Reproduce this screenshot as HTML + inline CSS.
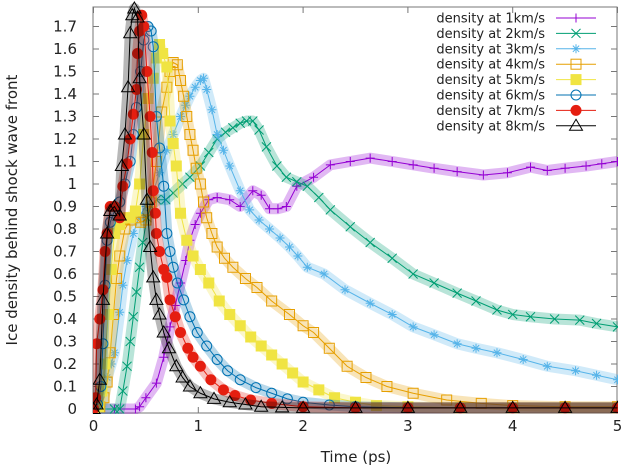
<!DOCTYPE html>
<html><head><meta charset="utf-8"><style>
body{margin:0;background:#fff;}
svg{display:block;font-family:"DejaVu Sans","Liberation Sans",sans-serif;}
</style></head><body>
<svg id="chart" width="625" height="469" viewBox="0 0 625 469">
<defs><clipPath id="pc"><rect x="93" y="0" width="525" height="414"/></clipPath></defs>
<rect x="93" y="7" width="524" height="406" fill="#fff" stroke="#777" stroke-width="1"/>
<g id="axes"></g>
<g id="series" clip-path="url(#pc)"></g>
<g id="legend"></g>
<text x="356" y="462" text-anchor="middle" font-size="15" fill="#222">Time (ps)</text>
<text transform="translate(17,210) rotate(-90)" text-anchor="middle" font-size="15" fill="#222">Ice density behind shock wave front</text>
</svg>
<script>
const xTicks=[0,1,2,3,4,5];
const yTicks=[0,0.1,0.2,0.3,0.4,0.5,0.6,0.7,0.8,0.9,1,1.1,1.2,1.3,1.4,1.5,1.6,1.7];
const seriesNames=["density at 1km/s","density at 2km/s","density at 3km/s","density at 4km/s","density at 5km/s","density at 6km/s","density at 7km/s","density at 8km/s"];
const t1=[0,0.2,0.4,0.44,0.5,0.6,0.67,0.73,0.78,0.83,0.88,0.92,0.97,1.02,1.1,1.18,1.3,1.4,1.52,1.6,1.68,1.76,1.84,1.94,2.1,2.26,2.45,2.64,2.85,3.05,3.25,3.47,3.72,3.95,4.17,4.33,4.5,4.7,4.85,5];
const v1=[0,0,0,0.01,0.05,0.115,0.23,0.365,0.46,0.56,0.66,0.75,0.82,0.87,0.93,0.94,0.93,0.9,0.97,0.95,0.89,0.89,0.9,0.99,1.03,1.085,1.1,1.115,1.1,1.085,1.07,1.055,1.04,1.05,1.075,1.06,1.07,1.08,1.09,1.1];
const t2=[0,0.2,0.25,0.28,0.32,0.35,0.38,0.41,0.44,0.47,0.51,0.55,0.6,0.69,0.76,0.85,0.92,1.02,1.1,1.18,1.26,1.33,1.4,1.46,1.52,1.58,1.65,1.75,1.84,1.94,2.04,2.15,2.26,2.45,2.64,2.85,3.05,3.25,3.47,3.65,3.85,4.0,4.17,4.4,4.64,4.8,5];
const v2=[0,0,0,0.08,0.19,0.3,0.41,0.52,0.63,0.74,0.85,0.9,0.93,0.93,0.96,1.0,1.03,1.08,1.14,1.2,1.23,1.25,1.27,1.28,1.28,1.24,1.165,1.08,1.03,1.01,0.99,0.94,0.885,0.81,0.74,0.67,0.6,0.56,0.515,0.48,0.44,0.42,0.41,0.4,0.395,0.38,0.365];
const t3=[0,0.08,0.13,0.17,0.2,0.25,0.28,0.32,0.38,0.44,0.5,0.56,0.63,0.7,0.76,0.83,0.88,0.92,0.97,1.02,1.05,1.08,1.13,1.18,1.24,1.3,1.4,1.49,1.58,1.68,1.78,1.87,1.95,2.04,2.2,2.4,2.64,2.85,3.05,3.25,3.47,3.65,3.85,4.1,4.33,4.6,4.8,5];
const v3=[0,0.01,0.14,0.2,0.25,0.43,0.55,0.66,0.78,0.86,0.9,0.95,1.05,1.15,1.22,1.3,1.35,1.39,1.43,1.46,1.47,1.42,1.33,1.22,1.15,1.08,0.97,0.885,0.84,0.8,0.76,0.72,0.68,0.63,0.6,0.53,0.47,0.42,0.365,0.33,0.29,0.27,0.25,0.22,0.19,0.17,0.15,0.13];
const t4=[0,0.06,0.1,0.13,0.16,0.19,0.22,0.25,0.3,0.35,0.4,0.45,0.5,0.55,0.6,0.65,0.7,0.73,0.76,0.8,0.83,0.86,0.89,0.92,0.95,0.98,1.02,1.05,1.08,1.13,1.18,1.25,1.33,1.45,1.56,1.7,1.87,2.0,2.1,2.25,2.42,2.6,2.8,3.05,3.37,3.7,4.0,4.5,5];
const v4=[0,0.01,0.05,0.12,0.25,0.42,0.58,0.68,0.8,0.84,0.85,0.83,0.84,0.92,1.1,1.32,1.43,1.5,1.54,1.53,1.46,1.39,1.3,1.22,1.15,1.07,1.0,0.92,0.85,0.78,0.72,0.67,0.63,0.58,0.54,0.48,0.42,0.37,0.34,0.27,0.19,0.14,0.1,0.07,0.04,0.025,0.015,0.01,0.01];
const t5=[0,0.05,0.08,0.11,0.14,0.17,0.2,0.25,0.3,0.35,0.4,0.44,0.48,0.52,0.57,0.6,0.63,0.66,0.7,0.73,0.76,0.79,0.83,0.89,0.95,1.02,1.1,1.2,1.3,1.4,1.5,1.6,1.7,1.8,1.9,2.0,2.15,2.3,2.5,2.7,3.0,3.5,4.0,4.5,5];
const v5=[0,0.01,0.08,0.2,0.42,0.62,0.78,0.82,0.85,0.85,0.88,1.0,1.22,1.38,1.47,1.56,1.62,1.58,1.52,1.28,1.18,1.08,0.87,0.75,0.68,0.62,0.56,0.48,0.42,0.37,0.32,0.28,0.24,0.2,0.16,0.12,0.085,0.05,0.03,0.015,0.01,0.005,0.005,0.005,0.005];
const t6=[0,0.04,0.07,0.09,0.11,0.13,0.16,0.2,0.25,0.3,0.35,0.38,0.41,0.45,0.48,0.52,0.55,0.57,0.6,0.63,0.67,0.7,0.73,0.76,0.8,0.86,0.92,0.99,1.08,1.18,1.28,1.4,1.55,1.7,1.85,2.0,2.25,2.5,3.0,3.5,4.0,4.5,5];
const v6=[0,0.02,0.1,0.29,0.55,0.75,0.83,0.88,0.92,1.0,1.1,1.22,1.34,1.5,1.64,1.7,1.68,1.61,1.3,1.16,0.99,0.78,0.7,0.63,0.56,0.485,0.41,0.34,0.28,0.22,0.17,0.13,0.095,0.07,0.045,0.03,0.018,0.01,0.005,0.005,0.005,0.005,0.005];
const t7=[0,0.02,0.03,0.06,0.09,0.11,0.13,0.16,0.2,0.25,0.28,0.32,0.35,0.38,0.41,0.42,0.44,0.46,0.48,0.51,0.54,0.56,0.57,0.59,0.6,0.63,0.67,0.7,0.73,0.78,0.83,0.9,0.95,1.02,1.12,1.24,1.35,1.5,1.7,2.0,2.5,3.0,3.5,4.0,4.5,5];
const v7=[0,0.05,0.29,0.4,0.53,0.7,0.78,0.9,0.9,0.85,0.99,1.09,1.2,1.31,1.42,1.58,1.68,1.75,1.7,1.5,1.3,1.14,0.97,0.87,0.78,0.7,0.62,0.585,0.485,0.41,0.34,0.27,0.23,0.19,0.13,0.085,0.06,0.04,0.025,0.01,0.005,0.005,0.005,0.005,0.005,0.005];
const t8=[0,0.03,0.06,0.09,0.13,0.16,0.2,0.25,0.27,0.3,0.33,0.35,0.37,0.39,0.42,0.44,0.48,0.51,0.54,0.57,0.6,0.63,0.67,0.72,0.79,0.85,0.92,1.02,1.15,1.3,1.45,1.6,1.8,2.0,2.5,3.0,3.5,4.0,4.5,5];
const v8=[0,0.02,0.13,0.485,0.78,0.88,0.9,0.86,1.08,1.22,1.43,1.67,1.75,1.78,1.74,1.47,1.22,0.93,0.72,0.585,0.485,0.42,0.34,0.27,0.19,0.14,0.1,0.07,0.045,0.03,0.02,0.01,0.007,0.005,0.005,0.005,0.005,0.005,0.005,0.005];
const colors=["#9400d3","#009e73","#56b4e9","#e69f00","#f0e442","#0072b2","#e51e10","#000000"];
const markers=["plus","cross","star","square","fsquare","circle","fcircle","triangle"];
const allT=[t1,t2,t3,t4,t5,t6,t7,t8];
const allV=[v1,v2,v3,v4,v5,v6,v7,v8];

const NS="http://www.w3.org/2000/svg";
function X(t){return 93.5+104.8*t;}
function Y(v){return 409-225*v;}
function mk(tag,attrs,parent){const e=document.createElementNS(NS,tag);for(const k in attrs)e.setAttribute(k,attrs[k]);parent.appendChild(e);return e;}
function marker(type,x,y,c,parent){
  const g=mk('g',{},parent);
  const s=4.5;
  if(type==='plus'){mk('path',{d:`M${x-s} ${y}H${x+s}M${x} ${y-s}V${y+s}`,stroke:c,'stroke-width':1,fill:'none'},g);}
  else if(type==='cross'){mk('path',{d:`M${x-s} ${y-s}L${x+s} ${y+s}M${x-s} ${y+s}L${x+s} ${y-s}`,stroke:c,'stroke-width':1,fill:'none'},g);}
  else if(type==='star'){mk('path',{d:`M${x-s} ${y}H${x+s}M${x} ${y-s}V${y+s}M${x-s*0.7} ${y-s*0.7}L${x+s*0.7} ${y+s*0.7}M${x-s*0.7} ${y+s*0.7}L${x+s*0.7} ${y-s*0.7}`,stroke:c,'stroke-width':1,fill:'none'},g);}
  else if(type==='square'){mk('rect',{x:x-5,y:y-5,width:10,height:10,stroke:c,'stroke-width':1,fill:'none'},g);}
  else if(type==='fsquare'){mk('rect',{x:x-5.5,y:y-5.5,width:11,height:11,fill:c},g);}
  else if(type==='circle'){mk('circle',{cx:x,cy:y,r:5,stroke:c,'stroke-width':1,fill:'none'},g);}
  else if(type==='fcircle'){mk('circle',{cx:x,cy:y,r:5.5,fill:c},g);}
  else if(type==='triangle'){mk('path',{d:`M${x} ${y-6.5}L${x+6.5} ${y+4.5}L${x-6.5} ${y+4.5}Z`,stroke:c,'stroke-width':1,fill:'none'},g);}
  return g;
}
const axes=document.getElementById('axes');
xTicks.forEach(t=>{
  const l=mk('path',{d:`M${X(t)} 413v-6M${X(t)} 7v6`,stroke:'#777','stroke-width':1},axes);
  
  
  const tx=mk('text',{x:X(t),y:431,'text-anchor':'middle','font-size':15,fill:'#222'},axes);
  tx.textContent=String(t);
  
  
});
yTicks.forEach(v=>{
  const l=mk('path',{d:`M93 ${Y(v)}h6M617 ${Y(v)}h-6`,stroke:'#777','stroke-width':1},axes);
  
  
  const tx=mk('text',{x:77,y:Y(v)+5,'text-anchor':'end','font-size':15,fill:'#222'},axes);
  tx.textContent=String(v);
  
  
});
const sg=document.getElementById('series');
const lg=document.getElementById('legend');
for(let i=0;i<8;i++){
  const T=allT[i],V=allV[i],c=colors[i];
  const g=mk('g',{},sg);
  
  
  const pts=T.map((t,j)=>X(t)+','+Y(V[j])).join(' ');
  mk('polyline',{points:pts,fill:'none',stroke:c,'stroke-width':11,'stroke-opacity':0.28,'stroke-linejoin':'round'},g);
  const ln=mk('polyline',{points:pts,fill:'none',stroke:c,'stroke-width':1},g);
  
  
  T.forEach((t,j)=>{
    const m=marker(markers[i],X(t),Y(V[j]),c,g);
    
    
  });
  const ly=18+15.4*i;
  const e=mk('g',{},lg);
  
  
  const tx=mk('text',{x:545,y:ly+4.5,'text-anchor':'end','font-size':13,fill:'#222'},e);
  tx.textContent=seriesNames[i];
  mk('line',{x1:556,y1:ly,x2:596,y2:ly,stroke:c,'stroke-width':1},e);
  marker(markers[i],576,ly,c,e);
}
</script>
</body></html>
